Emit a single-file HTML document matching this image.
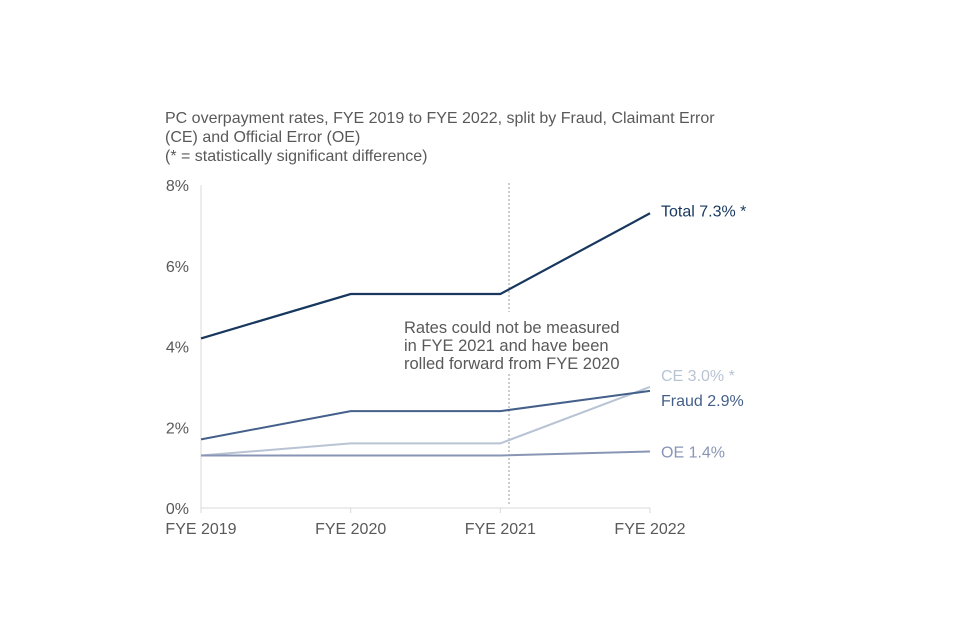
<!DOCTYPE html>
<html><head><meta charset="utf-8"><style>
body{margin:0;background:#fff;}
svg{display:block;font-family:"Liberation Sans",sans-serif;}
</style></head><body>
<svg id="chart" width="960" height="640">
<g font-size="16" fill="#595959">
<text x="165" y="123">PC overpayment rates, FYE 2019 to FYE 2022, split by Fraud, Claimant Error</text>
<text x="165" y="142">(CE) and Official Error (OE)</text>
<text x="165" y="161">(* = statistically significant difference)</text>
</g>
<g id="axes"></g>
<g id="series"></g>
<g font-size="16.5" fill="#595959">
<text x="404" y="333">Rates could not be measured</text>
<text x="404" y="351">in FYE 2021 and have been</text>
<text x="404" y="369">rolled forward from FYE 2020</text>
</g>
</svg>
<script>
const categories=["FYE 2019","FYE 2020","FYE 2021","FYE 2022"];
const totalValues=[4.2,5.3,5.3,7.3];
const fraudValues=[1.7,2.4,2.4,2.9];
const ceValues=[1.3,1.6,1.6,3.0];
const oeValues=[1.3,1.3,1.3,1.4];
const yTicks=[0,2,4,6,8];
const yTickLabels=["0%","2%","4%","6%","8%"];
const seriesNames=["total","fraud","ce","oe"];
const seriesLabels=["Total 7.3% *","Fraud 2.9%","CE 3.0% *","OE 1.4%"];

const NS="http://www.w3.org/2000/svg";
const x0=201,x1=650,yTop=185,yBot=508,yMax=8;
function xs(i){return x0+i*(x1-x0)/(categories.length-1);}
function ys(v){return yBot-v/yMax*(yBot-yTop);}
function mk(tag,attrs,parent){const e=document.createElementNS(NS,tag);for(const k in attrs)e.setAttribute(k,attrs[k]);parent.appendChild(e);return e;}
const axes=document.getElementById('axes'),ser=document.getElementById('series');
let a=mk('line',{x1:x0,x2:x0,y1:yTop,y2:yBot,stroke:'#d9d9d9','stroke-width':1},axes);


a=mk('line',{x1:x0,x2:x1,y1:yBot,y2:yBot,stroke:'#d9d9d9','stroke-width':1},axes);


yTicks.forEach((t,i)=>{const e=mk('text',{x:189,y:ys(t)+6,'text-anchor':'end','font-size':16,fill:'#595959'},axes);e.textContent=yTickLabels[i];

});
categories.forEach((c,i)=>{const tk=mk('line',{x1:xs(i),x2:xs(i),y1:yBot,y2:yBot+5,stroke:'#d9d9d9'},axes);


const e=mk('text',{x:xs(i),y:534,'text-anchor':'middle','font-size':16,fill:'#595959'},axes);e.textContent=c;

});
const d=mk('line',{x1:509,x2:509,y1:183,y2:312,stroke:'#999','stroke-dasharray':'2,2'},axes);


const d2=mk('line',{x1:509,x2:509,y1:374,y2:505,stroke:'#999','stroke-dasharray':'2,2'},axes);


const data=[totalValues,fraudValues,ceValues,oeValues];
const colors=["#17375e","#44608a","#b8c3d4","#8895b5"];
const widths=[2.2,2,2,2];
const labelY=[ys(7.3)+3,ys(2.9)+15,ys(3.0)-6,ys(1.4)+6];
const labelX=[661,661,661,661];
[2,3,1,0].forEach(s=>{const p=mk('polyline',{points:data[s].map((v,i)=>xs(i)+','+ys(v)).join(' '),fill:'none',stroke:colors[s],'stroke-width':widths[s]},ser);


const t=mk('text',{x:labelX[s],y:labelY[s],'font-size':16,fill:colors[s]},ser);t.textContent=seriesLabels[s];

});
</script>
</body></html>
